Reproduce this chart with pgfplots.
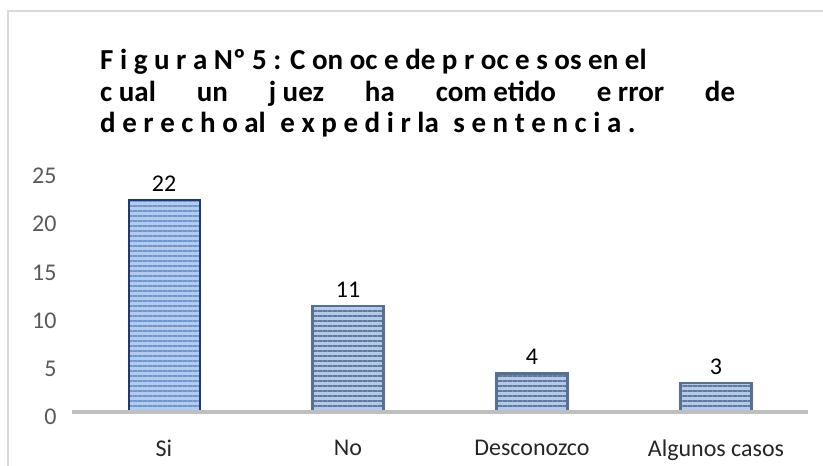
\documentclass[border=0pt]{standalone}
\usepackage{pgfplots}
\pgfplotsset{compat=1.18}
\usepackage{fontspec}
\setmainfont{Carlito}
\usetikzlibrary{patterns.meta}
\definecolor{framegray}{HTML}{D9D9D9}
\definecolor{axisgray}{HTML}{BFBFBF}
\definecolor{tickgray}{HTML}{595959}
\definecolor{sifill}{HTML}{B2CBEE}
\definecolor{sistripe}{HTML}{7096CC}
\definecolor{siborder}{HTML}{1F3A6E}
\definecolor{otherfill}{HTML}{B4CAE8}
\definecolor{stripeblue}{HTML}{5F7A9E}
\definecolor{edgeblue}{HTML}{56708F}
\newcommand\axfont{\fontsize{24bp}{28bp}\selectfont}
\newcommand\titlefont{\fontsize{29bp}{33bp}\selectfont\bfseries}
\begin{document}
\begin{tikzpicture}
\path[use as bounding box] (0,0) rectangle (823bp,466bp);
\draw[framegray, line width=2bp] (7.5bp,0) -- (7.5bp,455bp) -- (823bp,455bp);
% title
\node[anchor=base west, inner sep=0] at (100bp,396bp) {\titlefont F i g u r a Nº 5 : C on oc e de p r oc e s os en el};
\node[anchor=base west, inner sep=0] at (100bp,364bp) {\titlefont \makebox[635bp][s]{c ual\hfill un\hfill j uez\hfill ha\hfill com etido\hfill e rror\hfill de}};
\node[anchor=base west, inner sep=0] at (100bp,333bp) {\titlefont d e r e c h o al\hspace{8bp} e x p e d i r la\hspace{8bp} s e n t e n c i a .};
\begin{axis}[
  at={(72bp,54bp)}, anchor=south west,
  scale only axis, width=736bp, height=241bp,
  xmin=-0.5, xmax=3.5, ymin=0, ymax=25,
  ytick={0,5,10,15,20,25},
  xtick={0,1,2,3},
  xticklabels={Si,No,Desconozco,Algunos casos},
  axis line style={draw=none},
  tick style={draw=none},
  /pgf/number format/assume math mode=true,
  yticklabel style={font=\axfont, text=tickgray, xshift=-12bp, yshift=-5bp},
  xticklabel style={font=\axfont, text=black!85, yshift=-20bp},
  ybar, bar width=71bp,
  nodes near coords,
  every node near coord/.append style={font=\axfont, text=black, yshift=4bp},
  clip=false,
]
\addplot[bar shift=0pt, fill=sifill, draw=siborder, line width=2bp,
  postaction={pattern={Lines[angle=0,distance=5bp,line width=1.8bp]}, pattern color=sistripe}]
  coordinates {(0,22)};
\addplot[bar shift=0pt, fill=otherfill, draw=edgeblue, line width=2.5bp,
  postaction={pattern={Lines[angle=0,distance=5bp,line width=2bp]}, pattern color=stripeblue}]
  coordinates {(1,11) (2,4) (3,3)};
\draw[axisgray, line width=3.5bp] (axis cs:-0.5,0) -- (axis cs:3.5,0);
\end{axis}
\end{tikzpicture}
\end{document}
